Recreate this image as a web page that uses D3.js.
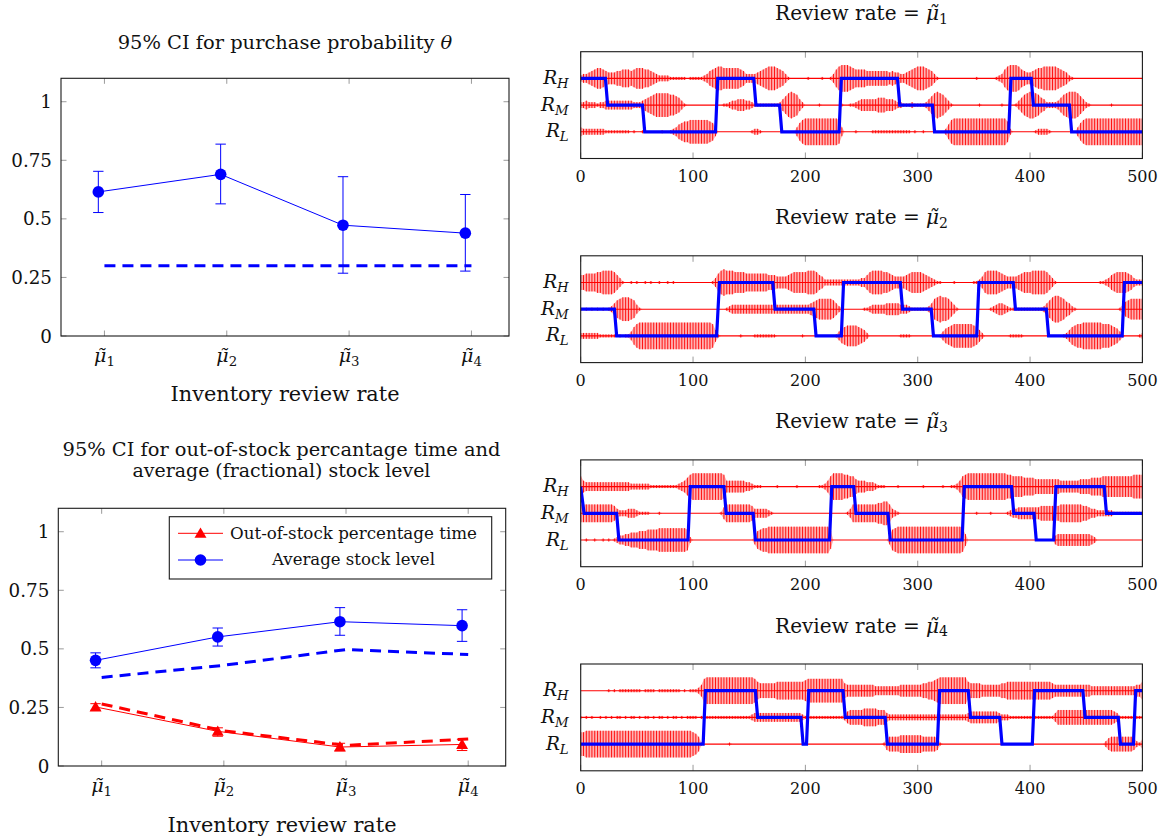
<!DOCTYPE html>
<html>
<head>
<meta charset="utf-8">
<script src="https://cdn.jsdelivr.net/npm/d3@7"></script>
<style>
  body { margin: 0; background: #fff; }
  svg { display: block; }
  text { font-family: "DejaVu Serif", serif; fill: #111; }
</style>
</head>
<body>
<svg id="chart" width="1165" height="840"></svg>
<script>
// ---------- left panels: confidence intervals per review rate ----------
const rateIdx = ["1", "2", "3", "4"];
const refX = [1, 2, 3, 4];            // reference (dashed) curves sit on the ticks
const ptX = [0.95, 1.95, 2.95, 3.95]; // simulated estimates, drawn slightly left
const probTicks = [0, 0.25, 0.5, 0.75, 1];
const probTickLabels = ["0", "0.25", "0.5", "0.75", "1"];

const thetaMean = [0.615, 0.690, 0.473, 0.439];
const thetaLo   = [0.527, 0.564, 0.268, 0.277];
const thetaHi   = [0.703, 0.819, 0.680, 0.604];
const thetaRef  = [0.30, 0.30, 0.30, 0.30];

const stockMean = [0.451, 0.551, 0.616, 0.599];
const stockLo   = [0.419, 0.512, 0.558, 0.532];
const stockHi   = [0.483, 0.589, 0.676, 0.667];
const stockRef  = [0.378, 0.430, 0.497, 0.476];

const oosMean = [0.252, 0.148, 0.081, 0.092];
const oosLo   = [0.238, 0.127, 0.065, 0.066];
const oosHi   = [0.266, 0.163, 0.097, 0.114];
const oosRef  = [0.265, 0.150, 0.088, 0.115];

// ---------- right panels: review-rate trajectories ----------
const timeTicks = [0, 100, 200, 300, 400, 500];
const levelKeys = ["L", "M", "H"];
const levelVal = { L: 1, M: 2, H: 3 };

// Credible-band half widths, one digit every 2.5 time units (digit/18 of a level gap)
const band1H = "2334 5677 6544 4556 6656 7776 6543 2222 1111 1101 1111 2356 7887 7777 7653 3334 5678 8876 5310 0000 0100 0010 0136 8999 8766 6655 5555 5545 4433 4567 8887 6531 0000 0000 0000 0100 0000 1236 8999 8654 4567 7888 8876 5421 0000 0000 0000 0000 0000 0000 0";
const band1M = "2232 2212 2333 3333 3332 2234 5678 8888 7765 3100 0000 0000 0001 1233 4443 3211 1111 1112 4689 8742 0000 0100 0000 0100 1123 4444 4455 5444 3221 1121 1112 4689 8753 1000 0000 0010 0000 0010 0001 3578 9987 5422 2235 7899 9864 2100 0000 0100 0000 0000 0";
const band1L = "3222 2222 2111 1111 1101 0010 0000 0100 1235 6778 8888 8876 3000 0000 0000 0122 1000 0000 0000 0368 9999 9999 9999 8300 0010 0000 1111 1111 1111 1101 0010 0000 0025 8999 9999 9999 9999 9999 7200 0000 0012 2221 0000 0000 0368 9999 9999 9999 9999 9999 9";

const band2H = "5566 6677 8888 7531 0010 1001 0100 1001 0100 0000 0000 0001 3689 8887 7776 6666 6665 5544 4456 7777 7888 7542 2222 2222 2222 3357 8888 7765 4444 5677 7765 4321 1000 0100 0000 1124 7888 8765 4444 5677 7888 8875 3100 0000 0000 0000 0112 3567 7776 5322 2";
const band2M = "1010 1010 1012 4678 8876 3100 0000 0000 0000 0000 0000 0000 0000 1233 3333 3333 3333 3333 3333 3333 3345 6777 7764 2100 0000 0112 3333 3444 4433 3211 1111 2478 9887 5310 0000 0000 0012 3443 2111 1111 1111 1246 8998 7542 1000 0000 0000 0000 1356 7777 7";
const band2L = "2222 2221 1111 1010 1136 8999 9999 9999 9999 9999 9999 9998 4100 0000 0100 0011 1111 1100 0000 0001 0000 0000 0001 3567 7776 5420 0000 0000 0011 1100 0000 0000 1356 7888 8888 7642 0000 0000 0111 1100 0000 0000 0000 1246 7889 9999 9988 8765 3100 0001 2";

const band3H = "7433 3333 3333 3333 3322 2222 2111 1111 1112 3468 9999 9999 9998 4444 4443 3211 1000 0010 0000 0100 0000 0112 4799 9988 7754 4433 3211 1000 0100 0000 0010 0000 0100 1124 7899 9999 9999 9999 8877 7766 6655 5555 5554 4444 4455 5566 6677 7777 7777 7888 8";
const band3M = "6666 6666 6666 5322 2333 2111 1000 1000 0000 0000 0000 0000 0014 6666 6666 6533 3332 1000 0000 0000 0000 0000 0000 0001 3666 6666 6677 8863 2100 0000 0000 0000 0000 0000 0000 0100 0010 0000 1233 4444 4444 5555 5556 6666 6665 5433 2222 2211 1111 1111 1";
const band3L = "0010 0100 1010 1233 4455 5666 7777 8888 8888 8872 0000 0000 0000 0000 0000 0036 7889 9999 9999 9999 9999 9999 9600 0000 0000 0000 0000 0037 8999 9999 9999 9999 9999 9999 8400 0000 0000 0000 0000 0000 0000 0000 0344 4444 4444 4432 0000 0000 0000 0000 0";

const band4H = "0000 0000 0010 1011 1111 1101 1110 1111 1111 0101 1124 8999 9999 9999 9999 9986 5555 5566 6666 6666 7888 8888 8888 8854 4444 4444 4333 3333 3344 4444 4455 6678 9999 9999 9965 5554 4444 4455 6666 6666 6666 6666 5444 4444 4444 4433 3333 3333 3333 3344 6";
const band4M = "1010 1001 0101 0110 1011 0101 1010 1101 0110 1011 1101 1111 1111 1111 1111 1233 3333 3333 3333 3332 1111 1111 1111 1124 5555 5666 6655 5322 2222 2222 2222 2222 2222 2222 2234 4444 4444 4322 2111 1111 1111 1111 1355 5555 5555 5555 5555 5543 1111 1111 1";
const band4L = "8899 9999 9999 9999 9999 9999 9999 9999 9999 9999 8751 0000 0000 0100 0000 0000 0000 0000 0000 0000 0000 0000 0000 0000 0000 0000 0000 1455 5566 6666 6655 5554 1000 0000 0000 0000 0000 0000 0000 0000 0000 0000 0000 0000 0000 0000 0002 4555 5555 5421 3";

// Selected review rate over time: [time, level] vertices (L=1, M=2, H=3)
const path1 = [[0,3],[22,3],[24,2],[55,2],[57,1],[120,1],[122,3],[154,3],[156,2],[177,2],[179,1],[230,1],[232,3],[282,3],[284,2],[313,2],[315,1],[381,1],[383,3],[401,3],[403,2],[435,2],[437,1],[500,1]];
const path2 = [[0,2],[30,2],[32,1],[121,1],[123.5,3],[171,3],[173,2],[207.5,2],[209.5,1],[232,1],[234,3],[284.5,3],[286.5,2],[312,2],[314,1],[352.5,1],[354.5,3],[385,3],[387,2],[414.5,2],[416.5,1],[482,1],[484,3],[500,3]];
const path3 = [[0,3],[3,2],[32,2],[34,1],[95.5,1],[97.5,3],[127.5,3],[129.5,2],[153.5,2],[155.5,1],[221.5,1],[223.5,3],[243,3],[245,2],[273.5,2],[275.5,1],[339.5,1],[341.5,3],[383.5,3],[385.5,2],[403.5,2],[405.5,1],[421,1],[423,3],[466,3],[468,2],[500,2]];
const path4 = [[0,1],[109,1],[111,3],[155.5,3],[157.5,2],[196,2],[198,1],[201,1],[203,3],[233.5,3],[235.5,2],[271,2],[273,1],[317.5,1],[319.5,3],[345,3],[347,2],[373,2],[375,1],[402,1],[404,3],[447,3],[449,2],[478.5,2],[480.5,1],[492,1],[494,3],[500,3]];

const panels = [
  { rate: "1", bands: { L: band1L, M: band1M, H: band1H }, path: path1 },
  { rate: "2", bands: { L: band2L, M: band2M, H: band2H }, path: path2 },
  { rate: "3", bands: { L: band3L, M: band3M, H: band3H }, path: path3 },
  { rate: "4", bands: { L: band4L, M: band4M, H: band4H }, path: path4 }
];

// ---------- drawing ----------
const svg = d3.select("#chart");
const BLUE = "#0000ff", RED = "#ff0000", TICK = "#9a9a9a";

// scale a text's font size so that it spans the given width
function fitWidth(sel, w) {
  const len = sel.node().getComputedTextLength();
  if (len > 0) sel.attr("font-size", (parseFloat(sel.attr("font-size")) * w / len).toFixed(2));
  return sel;
}

// μ̃ with a subscript index
function muLabel(sel, idx) {
  sel.append("tspan").attr("font-style", "italic").text("\u03BC\u0303");
  sel.append("tspan").attr("font-size", "70%").attr("dy", "0.28em").text(idx);
}

function ciAxes(box) {
  const g = svg.append("g");
  const x = d3.scaleLinear([0.645, 4.307], [box.x0, box.x1]);
  const y = d3.scaleLinear([0, 1.1], [box.y1, box.y0]);
  refX.forEach(v => {
    g.append("line").attr("x1", x(v)).attr("x2", x(v)).attr("y1", box.y1).attr("y2", box.y1 - 5.5).attr("stroke", TICK);
    g.append("line").attr("x1", x(v)).attr("x2", x(v)).attr("y1", box.y0).attr("y2", box.y0 + 5.5).attr("stroke", TICK);
  });
  probTicks.forEach(v => {
    g.append("line").attr("x1", box.x0).attr("x2", box.x0 + 5.5).attr("y1", y(v)).attr("y2", y(v)).attr("stroke", TICK);
    g.append("line").attr("x1", box.x1 - 5.5).attr("x2", box.x1).attr("y1", y(v)).attr("y2", y(v)).attr("stroke", TICK);
  });
  probTicks.forEach((v, i) => {
    g.append("text").attr("x", box.x0 - 9).attr("y", y(v)).attr("dy", "0.36em")
      .attr("text-anchor", "end").attr("font-size", 18.3).text(probTickLabels[i]);
  });
  refX.forEach((v, i) => {
    const t = g.append("text").attr("x", x(v)).attr("y", box.y1 + 26).attr("text-anchor", "middle").attr("font-size", 19);
    muLabel(t, rateIdx[i]);
  });
  g.append("rect").attr("x", box.x0).attr("y", box.y0).attr("width", box.x1 - box.x0).attr("height", box.y1 - box.y0)
    .attr("fill", "none").attr("stroke", "#1a1a1a").attr("stroke-width", 1.1);
  return { g, x, y };
}

function dashed(g, x, y, vals, color) {
  g.append("path").datum(vals.map((v, i) => [refX[i], v]))
    .attr("d", d3.line().x(d => x(d[0])).y(d => y(d[1])))
    .attr("fill", "none").attr("stroke", color).attr("stroke-width", 3).attr("stroke-dasharray", "11,7");
}

function ciSeries(g, x, y, mean, lo, hi, color, marker) {
  mean.forEach((m, i) => {
    const cx = x(ptX[i]);
    g.append("line").attr("x1", cx).attr("x2", cx).attr("y1", y(lo[i])).attr("y2", y(hi[i])).attr("stroke", color).attr("stroke-width", 1);
    [lo[i], hi[i]].forEach(v => g.append("line").attr("x1", cx - 5.2).attr("x2", cx + 5.2).attr("y1", y(v)).attr("y2", y(v)).attr("stroke", color).attr("stroke-width", 1));
  });
  g.append("path").datum(mean.map((v, i) => [ptX[i], v]))
    .attr("d", d3.line().x(d => x(d[0])).y(d => y(d[1])))
    .attr("fill", "none").attr("stroke", color).attr("stroke-width", 1);
  mean.forEach((m, i) => drawMarker(g, x(ptX[i]), y(m), color, marker));
}

function drawMarker(g, cx, cy, color, marker) {
  if (marker === "circle") {
    g.append("circle").attr("cx", cx).attr("cy", cy).attr("r", 5.8).attr("fill", color);
  } else {
    g.append("path").attr("d", d3.symbol(d3.symbolTriangle, 62)()).attr("transform", `translate(${cx},${cy + 1})`).attr("fill", color);
  }
}

// top-left: purchase probability
{
  const box = { x0: 61, x1: 509, y0: 78.3, y1: 336 };
  const { g, x, y } = ciAxes(box);
  dashed(g, x, y, thetaRef, BLUE);
  ciSeries(g, x, y, thetaMean, thetaLo, thetaHi, BLUE, "circle");
  const t = svg.append("text").attr("x", 285).attr("y", 49).attr("text-anchor", "middle").attr("font-size", 18);
  t.append("tspan").text("95% CI for purchase probability ");
  t.append("tspan").attr("font-style", "italic").text("\u03B8");
  fitWidth(t, 335);
  fitWidth(svg.append("text").attr("x", 285).attr("y", 400.5).attr("text-anchor", "middle").attr("font-size", 20).text("Inventory review rate"), 229);
}

// bottom-left: out-of-stock time and stock level
{
  const box = { x0: 58.3, x1: 505.7, y0: 508.3, y1: 766 };
  const { g, x, y } = ciAxes(box);
  dashed(g, x, y, stockRef, BLUE);
  dashed(g, x, y, oosRef, RED);
  ciSeries(g, x, y, stockMean, stockLo, stockHi, BLUE, "circle");
  ciSeries(g, x, y, oosMean, oosLo, oosHi, RED, "triangle");
  fitWidth(svg.append("text").attr("x", 281.5).attr("y", 455.6).attr("text-anchor", "middle").attr("font-size", 16)
    .text("95% CI for out-of-stock percantage time and"), 438);
  fitWidth(svg.append("text").attr("x", 281.5).attr("y", 477.4).attr("text-anchor", "middle").attr("font-size", 16)
    .text("average (fractional) stock level"), 298);
  fitWidth(svg.append("text").attr("x", 282).attr("y", 831.5).attr("text-anchor", "middle").attr("font-size", 20).text("Inventory review rate"), 229);

  // legend
  const lg = svg.append("g");
  lg.append("rect").attr("x", 169.3).attr("y", 516.7).attr("width", 322.4).attr("height", 62.3)
    .attr("fill", "#fff").attr("stroke", "#1a1a1a").attr("stroke-width", 1.1);
  const rows = [
    { label: "Out-of-stock percentage time", color: RED, marker: "triangle", y: 533.3, w: 247 },
    { label: "Average stock level", color: BLUE, marker: "circle", y: 560, w: 163 }
  ];
  rows.forEach(r => {
    lg.append("line").attr("x1", 178).attr("x2", 223).attr("y1", r.y).attr("y2", r.y).attr("stroke", r.color).attr("stroke-width", 1);
    drawMarker(lg, 200.5, r.y, r.color, r.marker);
    fitWidth(lg.append("text").attr("x", 353.5).attr("y", r.y + 5.3).attr("text-anchor", "middle").attr("font-size", 15).text(r.label), r.w);
  });
}

// right column: one panel per review rate
panels.forEach((p, i) => {
  const top = 51.7 + 204.1 * i, bottom = top + 106.8;
  const left = 580.7, right = 1142.4;
  const x = d3.scaleLinear([0, 500], [left, right]);
  const y = d3.scaleLinear([0, 4], [bottom, top]);
  const g = svg.append("g");
  const clipId = "clip" + i;
  svg.append("clipPath").attr("id", clipId).append("rect")
    .attr("x", left).attr("y", top).attr("width", right - left).attr("height", bottom - top);
  const plot = g.append("g").attr("clip-path", `url(#${clipId})`);

  levelKeys.forEach(k => {
    const lv = levelVal[k];
    const digits = p.bands[k].replace(/\s+/g, "");
    const step = 500 / (digits.length - 1);
    const pts = Array.from(digits, (c, j) => ({ t: j * step, h: +c / 18 }));
    plot.append("path").datum(pts)
      .attr("d", d3.area().x(d => x(d.t)).y0(d => y(lv - d.h)).y1(d => y(lv + d.h)))
      .attr("fill", RED).attr("fill-opacity", 0.3);
    plot.selectAll(null).data(pts.filter(d => d.h > 0)).join("line")
      .attr("x1", d => x(d.t)).attr("x2", d => x(d.t))
      .attr("y1", d => y(lv - d.h)).attr("y2", d => y(lv + d.h))
      .attr("stroke", RED).attr("stroke-width", 0.9);
    plot.append("line").attr("x1", left).attr("x2", right).attr("y1", y(lv)).attr("y2", y(lv))
      .attr("stroke", RED).attr("stroke-width", 1.1);
  });

  plot.append("path").datum(p.path)
    .attr("d", d3.line().x(d => x(d[0])).y(d => y(d[1])))
    .attr("fill", "none").attr("stroke", BLUE).attr("stroke-width", 3.2).attr("stroke-linejoin", "miter");

  timeTicks.forEach(v => {
    g.append("line").attr("x1", x(v)).attr("x2", x(v)).attr("y1", bottom).attr("y2", bottom - 6).attr("stroke", TICK);
    g.append("line").attr("x1", x(v)).attr("x2", x(v)).attr("y1", top).attr("y2", top + 6).attr("stroke", TICK);
    g.append("text").attr("x", x(v)).attr("y", bottom + 23).attr("text-anchor", "middle").attr("font-size", 16).text(v);
  });
  g.append("rect").attr("x", left).attr("y", top).attr("width", right - left).attr("height", bottom - top)
    .attr("fill", "none").attr("stroke", "#1a1a1a").attr("stroke-width", 1.1);

  levelKeys.forEach(k => {
    const t = g.append("text").attr("x", left - 12).attr("y", y(levelVal[k])).attr("dy", "0.3em")
      .attr("text-anchor", "end").attr("font-size", 18.5);
    t.append("tspan").attr("font-style", "italic").text("R");
    t.append("tspan").attr("font-style", "italic").attr("font-size", "72%").attr("dy", "0.3em").text(k);
  });

  const title = g.append("text").attr("x", (left + right) / 2).attr("y", top - 31.5).attr("text-anchor", "middle").attr("font-size", 16);
  title.append("tspan").text("Review rate = ");
  muLabel(title, p.rate);
  fitWidth(title, 173);
});
</script>
</body>
</html>
